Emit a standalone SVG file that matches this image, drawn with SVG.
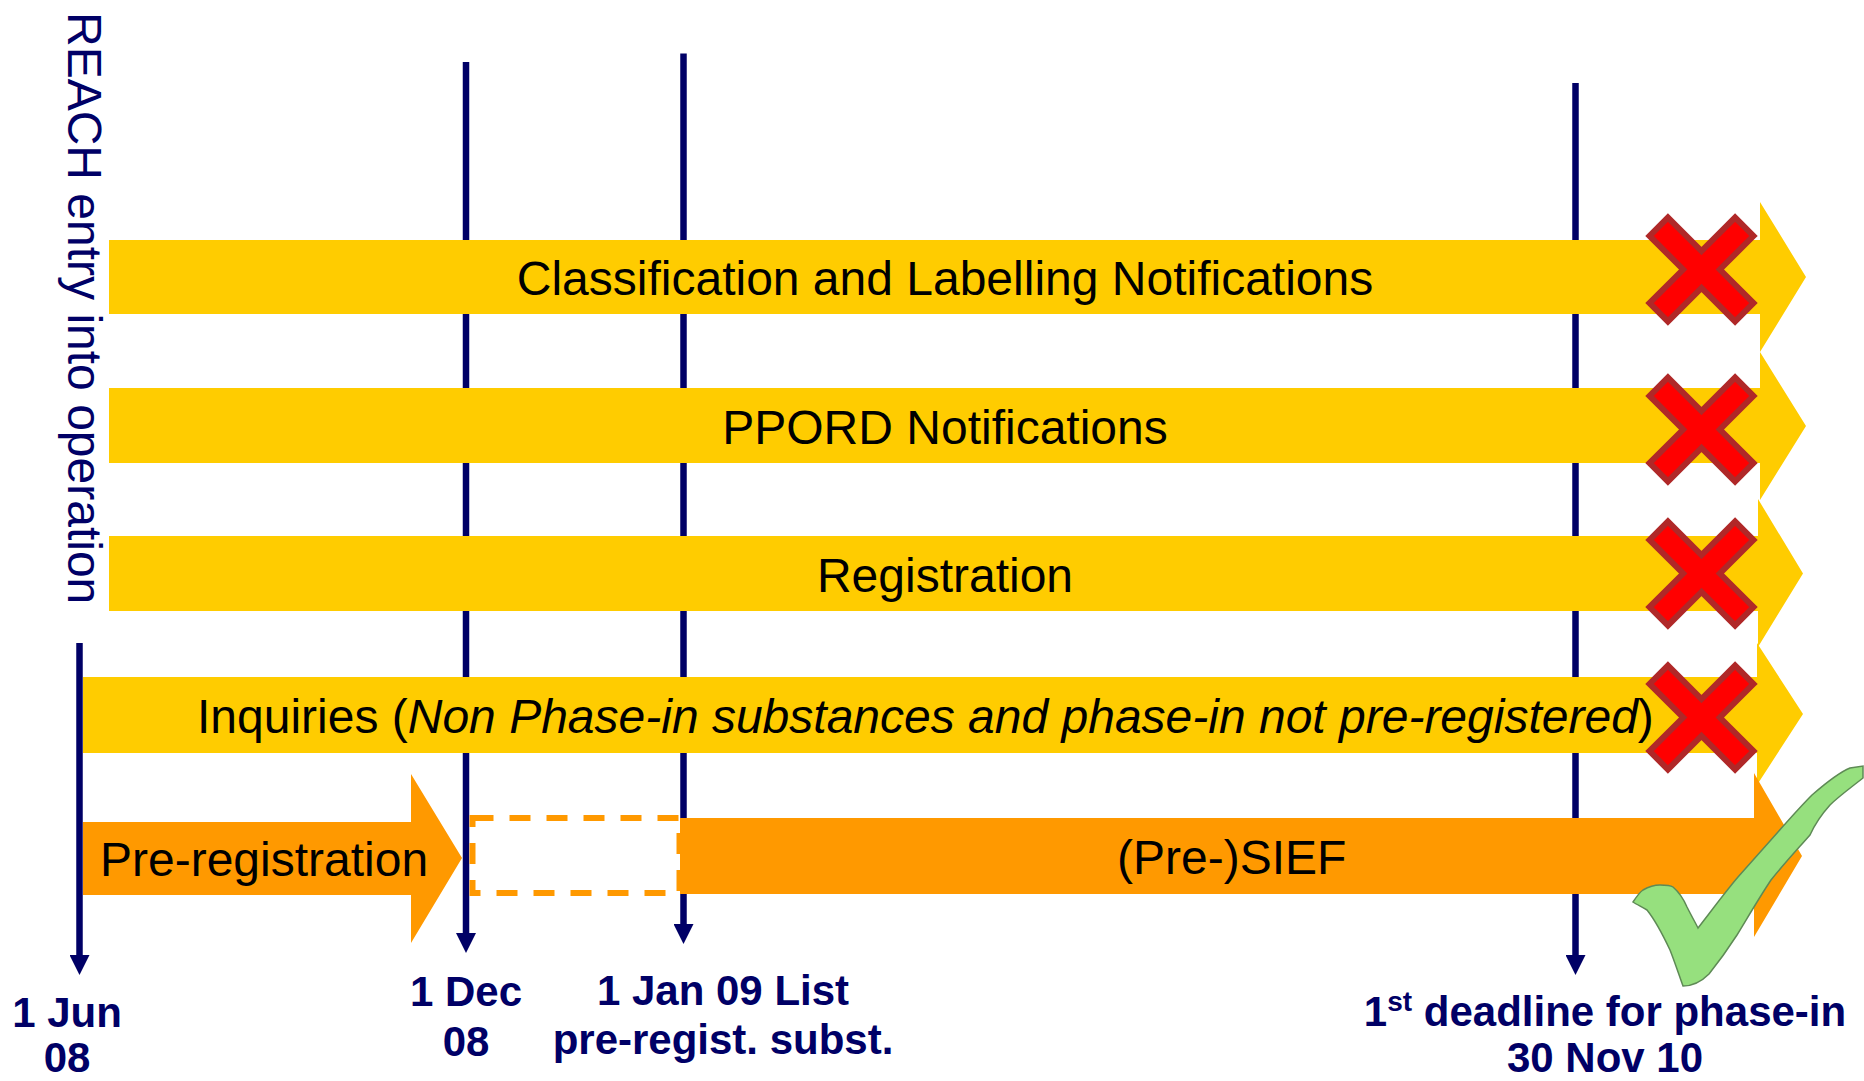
<svg xmlns="http://www.w3.org/2000/svg" width="1864" height="1081" viewBox="0 0 1864 1081">
<style>
.bar{fill:#FFCC00}
.org{fill:#FF9900}
.tl{stroke:#000066;stroke-width:6.5;fill:none}
.lbl{font-family:"Liberation Sans",Arial,sans-serif;font-size:48px;fill:#000}
.date{font-family:"Liberation Sans",Arial,sans-serif;font-size:42px;font-weight:bold;fill:#000066;text-anchor:middle}
.x{fill:#FF0000;stroke:#B02828;stroke-width:6;stroke-linejoin:miter}
</style>
<defs>
<marker id="ah" viewBox="0 0 20 20" refX="0" refY="10" markerWidth="20" markerHeight="20" markerUnits="userSpaceOnUse" orient="auto">
<path d="M0,0 L20,10 L0,20 Z" fill="#000066"/>
</marker>
<path id="cross" class="x" d="M13,-60.5 L13,-13 L60.5,-13 L60.5,13 L13,13 L13,60.5 L-13,60.5 L-13,13 L-60.5,13 L-60.5,-13 L-13,-13 L-13,-60.5 Z"/>
</defs>
<rect width="1864" height="1081" fill="#fff"/>

<g id="connectors">
<line class="tl" x1="79.5" y1="643" x2="79.5" y2="955" marker-end="url(#ah)"/>
<line class="tl" x1="466" y1="62" x2="466" y2="933" marker-end="url(#ah)"/>
<line class="tl" x1="683.5" y1="53.5" x2="683.5" y2="924" marker-end="url(#ah)"/>
<line class="tl" x1="1575.5" y1="83" x2="1575.5" y2="955" marker-end="url(#ah)"/>
</g>

<g id="reach-label">
<text class="lbl" style="fill:#000066" transform="translate(68,12) rotate(90)">REACH entry into operation</text>
</g>

<g id="bar-cl">
<path class="bar" d="M109,240 H1760 V202 L1806,277 L1760,352 V314 H109 Z"/>
<text class="lbl" x="945" y="295" text-anchor="middle">Classification and Labelling Notifications</text>
</g>

<g id="bar-ppord">
<path class="bar" d="M109,388 H1760 V352 L1806,426 L1760,500 V463 H109 Z"/>
<text class="lbl" x="945" y="443.5" text-anchor="middle">PPORD Notifications</text>
</g>

<g id="bar-registration">
<path class="bar" d="M109,536 H1758 V499 L1803,573.5 L1758,647 V611 H109 Z"/>
<text class="lbl" x="945" y="591.5" text-anchor="middle">Registration</text>
</g>

<g id="bar-inquiries">
<path class="bar" d="M83,677 H1757 V643 L1803,714 L1757,785 V753 H83 Z"/>
<text class="lbl" x="197" y="733">Inquiries (<tspan font-style="italic">Non Phase-in substances and phase-in not pre-registered</tspan>)</text>
</g>

<g id="pre-registration">
<path class="org" d="M83,822 H411 V774 L462,858 L411,943 V895 H83 Z"/>
<text class="lbl" x="100" y="876">Pre-registration</text>
</g>

<g id="gap-box">
<rect x="472.5" y="818" width="207" height="75" fill="none" stroke="#FF9900" stroke-width="6" stroke-dasharray="21 16"/>
</g>

<g id="sief">
<path class="org" d="M680,818 H1754 V773 L1802,856 L1754,937 V894 H680 Z"/>
<text class="lbl" x="1117" y="874">(Pre-)SIEF</text>
</g>

<g id="crosses">
<use href="#cross" transform="translate(1701.5,269.5) rotate(45)"/>
<use href="#cross" transform="translate(1701.5,429.5) rotate(45)"/>
<use href="#cross" transform="translate(1701.5,573.5) rotate(45)"/>
<use href="#cross" transform="translate(1701.5,717.5) rotate(45)"/>
</g>

<g id="check">
<path d="M1698,928 C1712,910 1726,891 1738,877 L1778,832 C1793,815 1804,803 1812,795 C1827,782 1840,772 1850,768 L1863,766 L1863,778 C1849,789 1838,797 1830,805 C1821,815 1815,824 1810,835 C1795,852 1783,865 1771,880 C1759,898 1748,917 1737,935 C1726,952 1717,964 1709,974 C1700,983 1691,986 1683,986 C1678,972 1674,960 1670,950 C1662,933 1655,920 1647,910 C1640,906 1636,904 1633,902 C1637,896 1640,892 1643,890 C1650,886 1655,885 1660,885 C1666,885 1670,885 1673,887 C1680,893 1684,900 1687,907 C1691,915 1695,922 1698,928 Z" fill="#96E07E" stroke="#5E8A55" stroke-width="1.5"/>
</g>

<g id="date-jun">
<text class="date" x="67" y="1027">1 Jun</text>
<text class="date" x="67" y="1072">08</text>
</g>
<g id="date-dec">
<text class="date" x="466" y="1006">1 Dec</text>
<text class="date" x="466" y="1056">08</text>
</g>
<g id="date-jan">
<text class="date" x="723" y="1005">1 Jan 09 List</text>
<text class="date" x="723" y="1054">pre-regist. subst.</text>
</g>
<g id="date-deadline">
<text class="date" x="1605" y="1026">1<tspan font-size="28" dy="-15">st</tspan><tspan dy="15"> deadline for phase-in</tspan></text>
<text class="date" x="1605" y="1072">30 Nov 10</text>
</g>
</svg>
